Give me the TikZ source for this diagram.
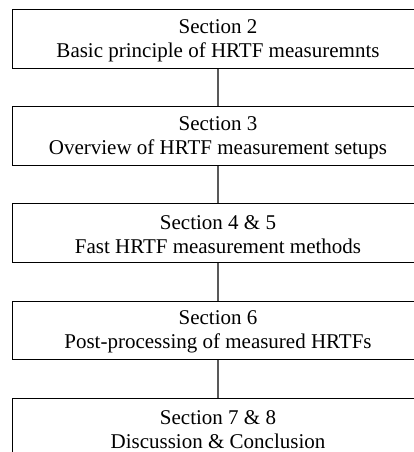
\documentclass[tikz,border=0pt]{standalone}
\usepackage{fontspec}
\setmainfont{Liberation Serif}
\newcommand{\lowerstrut}{\rule{0pt}{17.5pt}}
\begin{document}
\begin{tikzpicture}[x=1pt,y=-1pt,
  secbox/.style={draw=black, line width=1pt, minimum width=411pt, minimum height=58.5pt,
    inner sep=0pt, align=center, font=\fontsize{21}{24}\selectfont},
  link/.style={draw=black!65, line width=1.5pt}]
\useasboundingbox (0,0) rectangle (414,452);
\node[secbox] (s2) at (218,38.8) {\lowerstrut Section 2\\Basic principle of HRTF measuremnts};
\node[secbox] (s3) at (218,136) {\lowerstrut Section 3\\Overview of HRTF measurement setups};
\node[secbox] (s45) at (218,233.2) {\lowerstrut Section 4 \& 5\\Fast HRTF measurement methods};
\node[secbox] (s6) at (218,330.4) {\lowerstrut Section 6\\Post-processing of measured HRTFs};
\node[secbox] (s78) at (218,427.6) {\lowerstrut Section 7 \& 8\\Discussion \& Conclusion};
\draw[link] (s2) -- (s3);
\draw[link] (s3) -- (s45);
\draw[link] (s45) -- (s6);
\draw[link] (s6) -- (s78);
\end{tikzpicture}
\end{document}
